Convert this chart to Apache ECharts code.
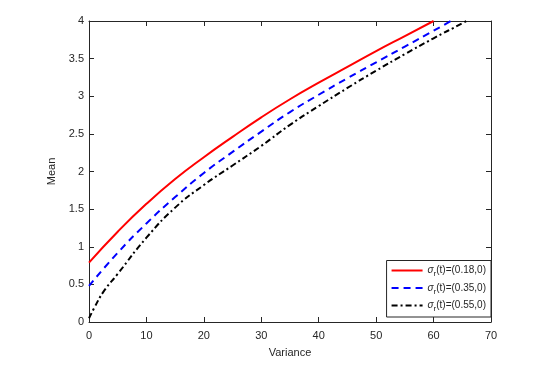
<!DOCTYPE html>
<html>
<head>
<meta charset="utf-8">
<script src="https://cdn.jsdelivr.net/npm/echarts@6/dist/echarts.min.js"></script>
<style>html,body{margin:0;padding:0;background:#fff;}#c{width:544px;height:369px;}</style>
</head>
<body>
<div id="c"></div>
<script>
// Data
var seriesNames = ['σr(t)=(0.18,0)', 'σr(t)=(0.35,0)', 'σr(t)=(0.55,0)'];
var varRed  = [0, 5, 10, 15, 20, 25, 30, 35, 40, 45, 50, 55, 60];
var meanRed = [0.79, 1.20, 1.57, 1.90, 2.19, 2.46, 2.72, 2.96, 3.18, 3.39, 3.60, 3.80, 4.00];
var varBlue  = [0, 5, 10, 15, 20, 25, 30, 35, 40, 45, 50, 55, 60, 63];
var meanBlue = [0.48, 0.92, 1.31, 1.66, 1.98, 2.26, 2.53, 2.79, 3.02, 3.24, 3.45, 3.66, 3.87, 4.00];
var varBlack  = [0, 1, 2.5, 5, 10, 15, 20, 25, 30, 35, 40, 45, 50, 55, 60, 65, 65.7];
var meanBlack = [0.05, 0.20, 0.40, 0.64, 1.12, 1.52, 1.82, 2.08, 2.34, 2.62, 2.87, 3.11, 3.34, 3.56, 3.77, 3.97, 4.00];
var xTicks = [0, 10, 20, 30, 40, 50, 60, 70];
var yTicks = [0, 0.5, 1, 1.5, 2, 2.5, 3, 3.5, 4];

function pairs(xs, ys) { return xs.map(function (x, i) { return [x, ys[i]]; }); }

var font = 'Liberation Sans, Arial, sans-serif';
var txt = '#262626';
var chart = echarts.init(document.getElementById('c'), null, {renderer: 'canvas'});

var axisCommon = {
  axisLine: {show: true, onZero: false, lineStyle: {color: '#262626', width: 1}},
  axisTick: {show: true, inside: true, length: 5, lineStyle: {color: '#262626'}},
  splitLine: {show: false}
};

chart.setOption({
  animation: false,
  backgroundColor: '#fff',
  grid: {left: 89, right: 53, top: 21, bottom: 47, containLabel: false},
  xAxis: [
    Object.assign({
      type: 'value', min: xTicks[0], max: xTicks[xTicks.length - 1], interval: 10,
      position: 'bottom',
      name: 'Variance', nameLocation: 'middle', nameGap: 25,
      nameTextStyle: {fontFamily: font, fontSize: 11, color: txt},
      axisLabel: {fontFamily: font, fontSize: 11, color: txt, margin: 8}
    }, axisCommon),
    Object.assign({
      type: 'value', min: xTicks[0], max: xTicks[xTicks.length - 1], interval: 10,
      position: 'top', axisLabel: {show: false}
    }, axisCommon)
  ],
  yAxis: [
    Object.assign({
      type: 'value', min: yTicks[0], max: yTicks[yTicks.length - 1], interval: 0.5,
      position: 'left',
      name: 'Mean', nameLocation: 'middle', nameGap: 26,
      nameTextStyle: {fontFamily: font, fontSize: 11, color: txt},
      axisLabel: {fontFamily: font, fontSize: 11, color: txt, margin: 5}
    }, axisCommon),
    Object.assign({
      type: 'value', min: yTicks[0], max: yTicks[yTicks.length - 1], interval: 0.5,
      position: 'right', axisLabel: {show: false}
    }, axisCommon)
  ],
  legend: {
    show: true,
    orient: 'vertical',
    right: 53, bottom: 52,
    backgroundColor: '#fff',
    borderColor: '#262626', borderWidth: 1, borderRadius: 0,
    padding: [5, 5, 4, 4],
    itemWidth: 31, itemHeight: 10, itemGap: 5,
    itemStyle: {opacity: 0},
    data: seriesNames,
    formatter: function (name) {
      var rest = name.slice(2);
      return '{s|σ}{sub|r}{n|' + rest + '}';
    },
    textStyle: {
      fontFamily: font, fontSize: 10, color: txt,
      rich: {
        s: {fontFamily: font, fontSize: 10, fontStyle: 'italic', color: txt},
        sub: {fontFamily: font, fontSize: 8, color: txt, padding: [7, 0, 0, 0]},
        n: {fontFamily: font, fontSize: 10, color: txt}
      }
    }
  },
  series: [
    {
      name: seriesNames[0], type: 'line', data: pairs(varRed, meanRed),
      smooth: 0.5, symbol: 'none', xAxisIndex: 0, yAxisIndex: 0,
      lineStyle: {color: '#ff0000', width: 2, type: 'solid'},
      itemStyle: {color: '#ff0000'}
    },
    {
      name: seriesNames[1], type: 'line', data: pairs(varBlue, meanBlue),
      smooth: 0.5, symbol: 'none', xAxisIndex: 0, yAxisIndex: 0,
      lineStyle: {color: '#0000ff', width: 2, type: [7, 5]},
      itemStyle: {color: '#0000ff'}
    },
    {
      name: seriesNames[2], type: 'line', data: pairs(varBlack, meanBlack),
      smooth: 0.5, symbol: 'none', xAxisIndex: 0, yAxisIndex: 0,
      lineStyle: {color: '#000000', width: 2, type: [6, 3, 2, 3]},
      itemStyle: {color: '#000000'}
    }
  ]
});
</script>
</body>
</html>
